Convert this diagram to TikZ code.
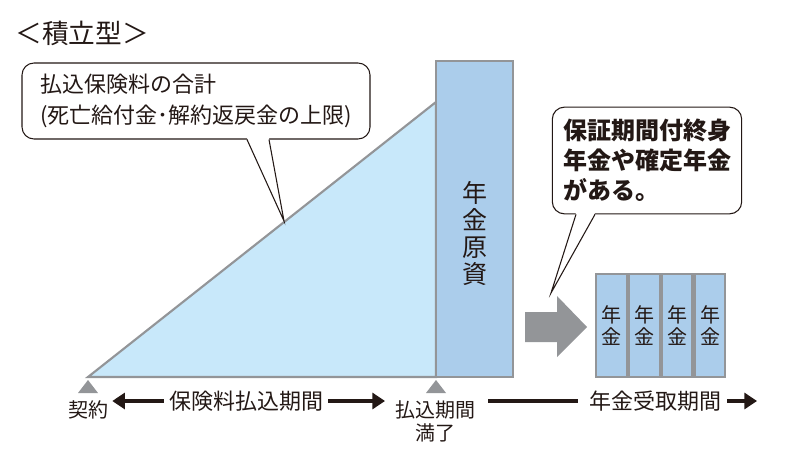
\documentclass[tikz,border=0pt]{standalone}
\usepackage{fontspec}
\setmainfont{Noto Sans CJK JP}
\usetikzlibrary{arrows.meta,positioning,calc}
\definecolor{ink}{HTML}{231815}
\definecolor{edge}{HTML}{939598}
\definecolor{sky}{HTML}{C8E8FA}
\definecolor{fund}{HTML}{ABCDEB}
\begin{document}
\begin{tikzpicture}[x=0.75pt,y=-0.75pt,>={Triangle[length=9.5pt,width=12pt]},
  every node/.style={text=ink,inner sep=0pt},
  callout/.style={draw=ink,line width=0.8pt,rounded corners=9pt,fill=white,align=left},
  fundbox/.style={draw=edge,line width=1.6pt,fill=fund},
  potbox/.style={fundbox,minimum width=23pt,minimum height=77pt,align=center,font=\fontsize{15}{16.5}\selectfont},
  period/.style={ink,line width=3pt},
  lbl/.style={font=\fontsize{16.5}{20}\selectfont}]
\useasboundingbox (0,0) rectangle (787,470);
\node[font=\fontsize{20}{24}\selectfont] (title) at (82,33) {＜積立型＞};
% premiums accumulate
\coordinate (sign) at (88,377);
\coordinate (paid) at (436,377);
\filldraw[fill=sky,draw=edge,line width=1.6pt] (sign) -- (436,102) -- (paid) -- cycle;
\node[fundbox,minimum width=57.75pt,minimum height=237pt] (fund) at (474.5,219) {};
\node[font=\fontsize{18.75}{20.25}\selectfont,align=center] (fundlbl) at (474.5,233) {年\\金\\原\\資};
% pensions paid out
\fill[edge] (525,312) -- (557,312) -- (557,296) -- (587,327) -- (557,357) -- (557,342) -- (525,342) -- cycle;
\node[potbox] (p1) at (611.6,325.5) {年\\金};
\node[potbox,right=0pt of p1] (p2) {年\\金};
\node[potbox,right=0pt of p2] (p3) {年\\金};
\node[potbox,right=0pt of p3] (p4) {年\\金};
% callouts
\node[callout,minimum width=261pt,minimum height=57pt,font=\fontsize{16.5}{23}\selectfont] (note1) at (196,101) {払込保険料の合計\\(死亡給付金･解約返戻金の上限)};
\coordinate (tip1) at (284,221);
\fill[white] ($(note1.south)+(51,-1.5)$) -- (tip1) -- ($(note1.south)+(73,-1.5)$) -- cycle;
\draw[ink,line width=0.8pt] ($(note1.south)+(51,0)$) -- (tip1) -- ($(note1.south)+(73,0)$);
\node[callout,minimum width=142pt,minimum height=80pt,font=\fontsize{18}{22.5}\bfseries\selectfont] (note2) at (647,160.5) {保証期間付終身\\年金や確定年金\\がある。};
\coordinate (tip2) at (551,293);
\fill[white] ($(note2.south)+(-71,-1.5)$) -- (tip2) -- ($(note2.south)+(-52,-1.5)$) -- cycle;
\draw[ink,line width=0.8pt] ($(note2.south)+(-71,0)$) -- (tip2) -- ($(note2.south)+(-52,0)$);
% time axis
\fill[edge] ($(sign)+(0,3)$) -- ($(sign)+(10,16)$) -- ($(sign)+(-10,16)$) -- cycle;
\fill[edge] ($(paid)+(0,3)$) -- ($(paid)+(10,16)$) -- ($(paid)+(-10,16)$) -- cycle;
\node[font=\fontsize{15}{17}\selectfont] (keiyaku) at (88,410) {契約};
\node[lbl] (premlbl) at (246,401) {保険料払込期間};
\node[font=\fontsize{15}{17.25}\selectfont,align=center] (paidlbl) at (435,421) {払込期間\\満了};
\node[lbl] (recvlbl) at (655,401) {年金受取期間};
\coordinate (premend) at (385,401);
\coordinate (recvstart) at (488,401);
\coordinate (recvend) at (757,401);
\draw[period,<-] ($(premlbl.west -| keiyaku.east)+(4,0)$) -- ($(premlbl.west)+(-5,0)$);
\draw[period,->] ($(premlbl.east)+(5,0)$) -- (premend);
\draw[period] (recvstart) -- ($(recvlbl.west)+(-11,0)$);
\draw[period,->] ($(recvlbl.east)+(6,0)$) -- (recvend);
\end{tikzpicture}
\end{document}
